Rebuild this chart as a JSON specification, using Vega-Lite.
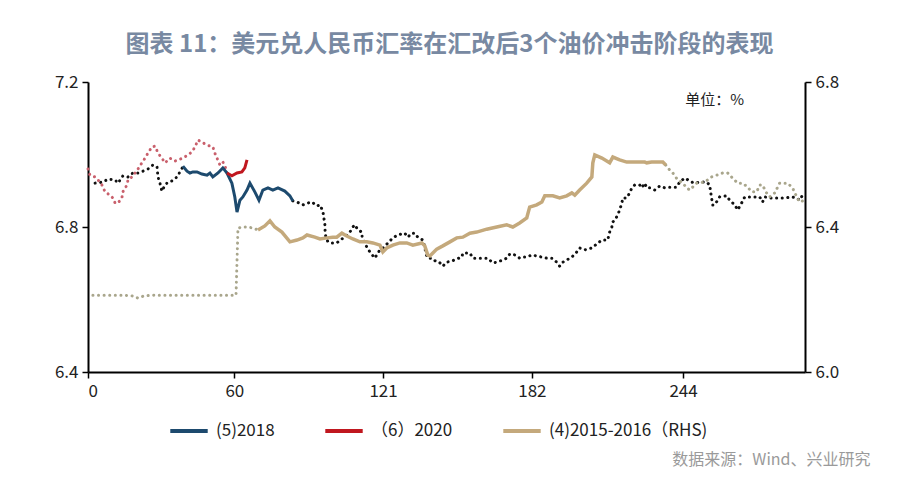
{
  "$schema": "https://vega.github.io/schema/vega-lite/v6.json",
  "width": 717,
  "height": 290,
  "autosize": {"type": "none"},
  "padding": {"left": 88, "top": 82, "right": 95, "bottom": 110},
  "background": "white",
  "title": {
    "text": "图表 11：美元兑人民币汇率在汇改后3个油价冲击阶段的表现",
    "font": "Noto Sans CJK SC",
    "fontSize": 24,
    "fontWeight": "bold",
    "color": "#7889a2",
    "anchor": "middle",
    "offset": 16,
    "dx": 3
  },
  "datasets": {
    "d2018": [
      {"day": 2.9, "rate": 6.921, "part": "pre"},
      {"day": 6.1, "rate": 6.924, "part": "pre"},
      {"day": 8.2, "rate": 6.932, "part": "pre"},
      {"day": 11.1, "rate": 6.930, "part": "pre"},
      {"day": 12.3, "rate": 6.921, "part": "pre"},
      {"day": 14.3, "rate": 6.941, "part": "pre"},
      {"day": 16.4, "rate": 6.938, "part": "pre"},
      {"day": 18.4, "rate": 6.949, "part": "pre"},
      {"day": 20.5, "rate": 6.949, "part": "pre"},
      {"day": 22.5, "rate": 6.954, "part": "pre"},
      {"day": 24.6, "rate": 6.960, "part": "pre"},
      {"day": 26.6, "rate": 6.971, "part": "pre"},
      {"day": 28.3, "rate": 6.966, "part": "pre"},
      {"day": 28.7, "rate": 6.938, "part": "pre"},
      {"day": 29.5, "rate": 6.921, "part": "pre"},
      {"day": 30.3, "rate": 6.899, "part": "pre"},
      {"day": 31.6, "rate": 6.916, "part": "pre"},
      {"day": 32.8, "rate": 6.924, "part": "pre"},
      {"day": 34.4, "rate": 6.927, "part": "pre"},
      {"day": 36.5, "rate": 6.938, "part": "pre"},
      {"day": 37.7, "rate": 6.952, "part": "pre"},
      {"day": 38.9, "rate": 6.966, "part": "pre"},
      {"day": 38.9, "rate": 6.968, "part": "win"},
      {"day": 40.6, "rate": 6.954, "part": "win"},
      {"day": 41.8, "rate": 6.949, "part": "win"},
      {"day": 43.0, "rate": 6.952, "part": "win"},
      {"day": 44.7, "rate": 6.952, "part": "win"},
      {"day": 46.7, "rate": 6.946, "part": "win"},
      {"day": 48.8, "rate": 6.943, "part": "win"},
      {"day": 50.0, "rate": 6.949, "part": "win"},
      {"day": 51.2, "rate": 6.938, "part": "win"},
      {"day": 53.3, "rate": 6.949, "part": "win"},
      {"day": 55.3, "rate": 6.963, "part": "win"},
      {"day": 57.0, "rate": 6.949, "part": "win"},
      {"day": 59.0, "rate": 6.921, "part": "win"},
      {"day": 60.2, "rate": 6.883, "part": "win"},
      {"day": 61.1, "rate": 6.841, "part": "win"},
      {"day": 62.3, "rate": 6.874, "part": "win"},
      {"day": 63.5, "rate": 6.883, "part": "win"},
      {"day": 65.2, "rate": 6.902, "part": "win"},
      {"day": 66.4, "rate": 6.921, "part": "win"},
      {"day": 68.4, "rate": 6.897, "part": "win"},
      {"day": 70.1, "rate": 6.874, "part": "win"},
      {"day": 71.7, "rate": 6.902, "part": "win"},
      {"day": 73.8, "rate": 6.908, "part": "win"},
      {"day": 75.8, "rate": 6.902, "part": "win"},
      {"day": 77.9, "rate": 6.908, "part": "win"},
      {"day": 80.7, "rate": 6.899, "part": "win"},
      {"day": 82.8, "rate": 6.886, "part": "win"},
      {"day": 84.0, "rate": 6.872, "part": "win"},
      {"day": 84.0, "rate": 6.872, "part": "post"},
      {"day": 85.7, "rate": 6.869, "part": "post"},
      {"day": 88.1, "rate": 6.861, "part": "post"},
      {"day": 90.2, "rate": 6.866, "part": "post"},
      {"day": 91.8, "rate": 6.869, "part": "post"},
      {"day": 93.9, "rate": 6.858, "part": "post"},
      {"day": 95.1, "rate": 6.861, "part": "post"},
      {"day": 96.3, "rate": 6.844, "part": "post"},
      {"day": 96.7, "rate": 6.825, "part": "post"},
      {"day": 97.1, "rate": 6.811, "part": "post"},
      {"day": 97.2, "rate": 6.792, "part": "post"},
      {"day": 97.5, "rate": 6.772, "part": "post"},
      {"day": 98.4, "rate": 6.759, "part": "post"},
      {"day": 100.0, "rate": 6.756, "part": "post"},
      {"day": 102.0, "rate": 6.756, "part": "post"},
      {"day": 104.1, "rate": 6.767, "part": "post"},
      {"day": 105.3, "rate": 6.772, "part": "post"},
      {"day": 107.4, "rate": 6.786, "part": "post"},
      {"day": 108.6, "rate": 6.800, "part": "post"},
      {"day": 109.4, "rate": 6.806, "part": "post"},
      {"day": 110.7, "rate": 6.792, "part": "post"},
      {"day": 112.3, "rate": 6.786, "part": "post"},
      {"day": 112.4, "rate": 6.772, "part": "post"},
      {"day": 114.3, "rate": 6.745, "part": "post"},
      {"day": 115.6, "rate": 6.731, "part": "post"},
      {"day": 117.6, "rate": 6.714, "part": "post"},
      {"day": 118.4, "rate": 6.723, "part": "post"},
      {"day": 119.7, "rate": 6.737, "part": "post"},
      {"day": 120.9, "rate": 6.742, "part": "post"},
      {"day": 123.0, "rate": 6.756, "part": "post"},
      {"day": 125.0, "rate": 6.770, "part": "post"},
      {"day": 127.0, "rate": 6.778, "part": "post"},
      {"day": 129.9, "rate": 6.783, "part": "post"},
      {"day": 131.1, "rate": 6.772, "part": "post"},
      {"day": 132.8, "rate": 6.783, "part": "post"},
      {"day": 134.0, "rate": 6.783, "part": "post"},
      {"day": 135.2, "rate": 6.772, "part": "post"},
      {"day": 137.3, "rate": 6.764, "part": "post"},
      {"day": 138.1, "rate": 6.745, "part": "post"},
      {"day": 138.5, "rate": 6.728, "part": "post"},
      {"day": 139.3, "rate": 6.714, "part": "post"},
      {"day": 141.0, "rate": 6.714, "part": "post"},
      {"day": 143.0, "rate": 6.703, "part": "post"},
      {"day": 144.3, "rate": 6.701, "part": "post"},
      {"day": 145.5, "rate": 6.692, "part": "post"},
      {"day": 147.1, "rate": 6.703, "part": "post"},
      {"day": 149.2, "rate": 6.706, "part": "post"},
      {"day": 151.2, "rate": 6.712, "part": "post"},
      {"day": 153.3, "rate": 6.717, "part": "post"},
      {"day": 153.7, "rate": 6.728, "part": "post"},
      {"day": 156.6, "rate": 6.728, "part": "post"},
      {"day": 157.8, "rate": 6.714, "part": "post"},
      {"day": 159.8, "rate": 6.714, "part": "post"},
      {"day": 161.9, "rate": 6.714, "part": "post"},
      {"day": 163.9, "rate": 6.714, "part": "post"},
      {"day": 166.0, "rate": 6.701, "part": "post"},
      {"day": 167.6, "rate": 6.703, "part": "post"},
      {"day": 168.9, "rate": 6.706, "part": "post"},
      {"day": 171.7, "rate": 6.714, "part": "post"},
      {"day": 173.0, "rate": 6.726, "part": "post"},
      {"day": 175.0, "rate": 6.723, "part": "post"},
      {"day": 177.0, "rate": 6.714, "part": "post"},
      {"day": 178.3, "rate": 6.717, "part": "post"},
      {"day": 179.9, "rate": 6.717, "part": "post"},
      {"day": 182.0, "rate": 6.723, "part": "post"},
      {"day": 184.0, "rate": 6.720, "part": "post"},
      {"day": 186.1, "rate": 6.717, "part": "post"},
      {"day": 188.1, "rate": 6.714, "part": "post"},
      {"day": 190.2, "rate": 6.714, "part": "post"},
      {"day": 192.2, "rate": 6.703, "part": "post"},
      {"day": 193.4, "rate": 6.692, "part": "post"},
      {"day": 194.7, "rate": 6.703, "part": "post"},
      {"day": 196.3, "rate": 6.709, "part": "post"},
      {"day": 198.4, "rate": 6.717, "part": "post"},
      {"day": 200.4, "rate": 6.731, "part": "post"},
      {"day": 201.6, "rate": 6.742, "part": "post"},
      {"day": 203.7, "rate": 6.737, "part": "post"},
      {"day": 206.6, "rate": 6.742, "part": "post"},
      {"day": 208.6, "rate": 6.753, "part": "post"},
      {"day": 210.7, "rate": 6.764, "part": "post"},
      {"day": 213.1, "rate": 6.764, "part": "post"},
      {"day": 213.9, "rate": 6.786, "part": "post"},
      {"day": 214.8, "rate": 6.800, "part": "post"},
      {"day": 215.2, "rate": 6.814, "part": "post"},
      {"day": 216.0, "rate": 6.819, "part": "post"},
      {"day": 217.2, "rate": 6.833, "part": "post"},
      {"day": 218.0, "rate": 6.847, "part": "post"},
      {"day": 218.9, "rate": 6.866, "part": "post"},
      {"day": 219.3, "rate": 6.880, "part": "post"},
      {"day": 220.9, "rate": 6.880, "part": "post"},
      {"day": 222.1, "rate": 6.894, "part": "post"},
      {"day": 223.0, "rate": 6.908, "part": "post"},
      {"day": 224.2, "rate": 6.916, "part": "post"},
      {"day": 226.2, "rate": 6.916, "part": "post"},
      {"day": 227.0, "rate": 6.908, "part": "post"},
      {"day": 228.3, "rate": 6.921, "part": "post"},
      {"day": 229.1, "rate": 6.908, "part": "post"},
      {"day": 230.3, "rate": 6.908, "part": "post"},
      {"day": 232.4, "rate": 6.902, "part": "post"},
      {"day": 234.4, "rate": 6.913, "part": "post"},
      {"day": 236.5, "rate": 6.908, "part": "post"},
      {"day": 238.5, "rate": 6.910, "part": "post"},
      {"day": 241.4, "rate": 6.910, "part": "post"},
      {"day": 242.6, "rate": 6.924, "part": "post"},
      {"day": 244.7, "rate": 6.935, "part": "post"},
      {"day": 245.5, "rate": 6.932, "part": "post"},
      {"day": 247.5, "rate": 6.924, "part": "post"},
      {"day": 248.8, "rate": 6.921, "part": "post"},
      {"day": 250.8, "rate": 6.924, "part": "post"},
      {"day": 253.7, "rate": 6.924, "part": "post"},
      {"day": 254.9, "rate": 6.916, "part": "post"},
      {"day": 255.3, "rate": 6.897, "part": "post"},
      {"day": 255.7, "rate": 6.880, "part": "post"},
      {"day": 256.1, "rate": 6.861, "part": "post"},
      {"day": 257.0, "rate": 6.861, "part": "post"},
      {"day": 259.0, "rate": 6.883, "part": "post"},
      {"day": 261.9, "rate": 6.886, "part": "post"},
      {"day": 263.1, "rate": 6.874, "part": "post"},
      {"day": 265.2, "rate": 6.861, "part": "post"},
      {"day": 266.4, "rate": 6.847, "part": "post"},
      {"day": 268.0, "rate": 6.866, "part": "post"},
      {"day": 269.3, "rate": 6.883, "part": "post"},
      {"day": 271.3, "rate": 6.883, "part": "post"},
      {"day": 273.4, "rate": 6.883, "part": "post"},
      {"day": 275.4, "rate": 6.883, "part": "post"},
      {"day": 276.6, "rate": 6.869, "part": "post"},
      {"day": 277.5, "rate": 6.883, "part": "post"},
      {"day": 279.5, "rate": 6.880, "part": "post"},
      {"day": 281.6, "rate": 6.880, "part": "post"},
      {"day": 283.6, "rate": 6.880, "part": "post"},
      {"day": 285.7, "rate": 6.880, "part": "post"},
      {"day": 288.5, "rate": 6.883, "part": "post"},
      {"day": 290.6, "rate": 6.880, "part": "post"},
      {"day": 291.8, "rate": 6.874, "part": "post"},
      {"day": 293.0, "rate": 6.888, "part": "post"},
      {"day": 294.0, "rate": 6.894, "part": "post"}
    ],
    "d2020": [
      {"day": 0.0, "rate": 6.960, "part": "pre"},
      {"day": 0.8, "rate": 6.943, "part": "pre"},
      {"day": 2.9, "rate": 6.938, "part": "pre"},
      {"day": 4.1, "rate": 6.930, "part": "pre"},
      {"day": 5.7, "rate": 6.916, "part": "pre"},
      {"day": 7.0, "rate": 6.897, "part": "pre"},
      {"day": 9.0, "rate": 6.888, "part": "pre"},
      {"day": 10.2, "rate": 6.880, "part": "pre"},
      {"day": 11.1, "rate": 6.866, "part": "pre"},
      {"day": 12.3, "rate": 6.866, "part": "pre"},
      {"day": 13.9, "rate": 6.880, "part": "pre"},
      {"day": 14.3, "rate": 6.897, "part": "pre"},
      {"day": 16.0, "rate": 6.916, "part": "pre"},
      {"day": 16.4, "rate": 6.930, "part": "pre"},
      {"day": 18.0, "rate": 6.938, "part": "pre"},
      {"day": 19.3, "rate": 6.949, "part": "pre"},
      {"day": 20.5, "rate": 6.960, "part": "pre"},
      {"day": 22.1, "rate": 6.977, "part": "pre"},
      {"day": 23.4, "rate": 6.990, "part": "pre"},
      {"day": 24.6, "rate": 7.004, "part": "pre"},
      {"day": 26.2, "rate": 7.021, "part": "pre"},
      {"day": 27.5, "rate": 7.023, "part": "pre"},
      {"day": 28.7, "rate": 7.004, "part": "pre"},
      {"day": 30.3, "rate": 6.990, "part": "pre"},
      {"day": 31.6, "rate": 6.977, "part": "pre"},
      {"day": 33.6, "rate": 6.990, "part": "pre"},
      {"day": 35.7, "rate": 6.982, "part": "pre"},
      {"day": 36.9, "rate": 6.985, "part": "pre"},
      {"day": 38.9, "rate": 6.990, "part": "pre"},
      {"day": 41.0, "rate": 6.999, "part": "pre"},
      {"day": 42.6, "rate": 7.007, "part": "pre"},
      {"day": 43.9, "rate": 7.021, "part": "pre"},
      {"day": 45.1, "rate": 7.040, "part": "pre"},
      {"day": 46.7, "rate": 7.034, "part": "pre"},
      {"day": 48.8, "rate": 7.026, "part": "pre"},
      {"day": 51.2, "rate": 7.021, "part": "pre"},
      {"day": 52.0, "rate": 7.004, "part": "pre"},
      {"day": 52.9, "rate": 6.990, "part": "pre"},
      {"day": 54.1, "rate": 6.971, "part": "pre"},
      {"day": 55.3, "rate": 6.979, "part": "pre"},
      {"day": 56.1, "rate": 6.971, "part": "pre"},
      {"day": 57.0, "rate": 6.949, "part": "pre"},
      {"day": 57.0, "rate": 6.949, "part": "win"},
      {"day": 59.0, "rate": 6.941, "part": "win"},
      {"day": 61.1, "rate": 6.949, "part": "win"},
      {"day": 63.1, "rate": 6.952, "part": "win"},
      {"day": 64.3, "rate": 6.963, "part": "win"},
      {"day": 65.2, "rate": 6.985, "part": "win"}
    ],
    "d2015": [
      {"day": 2.0, "rate": 6.212, "part": "pre"},
      {"day": 6.0, "rate": 6.212, "part": "pre"},
      {"day": 10.0, "rate": 6.212, "part": "pre"},
      {"day": 14.0, "rate": 6.212, "part": "pre"},
      {"day": 18.0, "rate": 6.210, "part": "pre"},
      {"day": 20.5, "rate": 6.204, "part": "pre"},
      {"day": 23.0, "rate": 6.210, "part": "pre"},
      {"day": 27.0, "rate": 6.212, "part": "pre"},
      {"day": 32.0, "rate": 6.212, "part": "pre"},
      {"day": 37.0, "rate": 6.212, "part": "pre"},
      {"day": 42.0, "rate": 6.212, "part": "pre"},
      {"day": 47.0, "rate": 6.212, "part": "pre"},
      {"day": 52.0, "rate": 6.212, "part": "pre"},
      {"day": 57.0, "rate": 6.212, "part": "pre"},
      {"day": 60.7, "rate": 6.212, "part": "pre"},
      {"day": 61.5, "rate": 6.397, "part": "pre"},
      {"day": 63.5, "rate": 6.400, "part": "pre"},
      {"day": 65.6, "rate": 6.400, "part": "pre"},
      {"day": 67.6, "rate": 6.397, "part": "pre"},
      {"day": 69.7, "rate": 6.392, "part": "pre"},
      {"day": 69.7, "rate": 6.392, "part": "win"},
      {"day": 72.5, "rate": 6.403, "part": "win"},
      {"day": 74.6, "rate": 6.417, "part": "win"},
      {"day": 76.6, "rate": 6.400, "part": "win"},
      {"day": 79.5, "rate": 6.386, "part": "win"},
      {"day": 82.8, "rate": 6.359, "part": "win"},
      {"day": 85.7, "rate": 6.364, "part": "win"},
      {"day": 88.1, "rate": 6.370, "part": "win"},
      {"day": 89.8, "rate": 6.378, "part": "win"},
      {"day": 93.0, "rate": 6.372, "part": "win"},
      {"day": 95.1, "rate": 6.367, "part": "win"},
      {"day": 98.0, "rate": 6.370, "part": "win"},
      {"day": 100.4, "rate": 6.372, "part": "win"},
      {"day": 102.0, "rate": 6.372, "part": "win"},
      {"day": 104.1, "rate": 6.383, "part": "win"},
      {"day": 106.1, "rate": 6.375, "part": "win"},
      {"day": 108.6, "rate": 6.367, "part": "win"},
      {"day": 111.5, "rate": 6.359, "part": "win"},
      {"day": 114.3, "rate": 6.359, "part": "win"},
      {"day": 116.8, "rate": 6.356, "part": "win"},
      {"day": 119.7, "rate": 6.350, "part": "win"},
      {"day": 120.9, "rate": 6.331, "part": "win"},
      {"day": 122.5, "rate": 6.342, "part": "win"},
      {"day": 125.0, "rate": 6.350, "part": "win"},
      {"day": 127.9, "rate": 6.356, "part": "win"},
      {"day": 130.7, "rate": 6.356, "part": "win"},
      {"day": 133.2, "rate": 6.350, "part": "win"},
      {"day": 136.9, "rate": 6.356, "part": "win"},
      {"day": 138.1, "rate": 6.348, "part": "win"},
      {"day": 139.3, "rate": 6.323, "part": "win"},
      {"day": 140.2, "rate": 6.320, "part": "win"},
      {"day": 141.4, "rate": 6.328, "part": "win"},
      {"day": 143.0, "rate": 6.339, "part": "win"},
      {"day": 145.5, "rate": 6.348, "part": "win"},
      {"day": 148.4, "rate": 6.359, "part": "win"},
      {"day": 151.2, "rate": 6.370, "part": "win"},
      {"day": 153.7, "rate": 6.372, "part": "win"},
      {"day": 156.6, "rate": 6.383, "part": "win"},
      {"day": 159.4, "rate": 6.386, "part": "win"},
      {"day": 163.5, "rate": 6.394, "part": "win"},
      {"day": 167.6, "rate": 6.400, "part": "win"},
      {"day": 171.7, "rate": 6.406, "part": "win"},
      {"day": 174.2, "rate": 6.400, "part": "win"},
      {"day": 177.0, "rate": 6.411, "part": "win"},
      {"day": 179.9, "rate": 6.425, "part": "win"},
      {"day": 181.1, "rate": 6.455, "part": "win"},
      {"day": 184.0, "rate": 6.461, "part": "win"},
      {"day": 186.1, "rate": 6.469, "part": "win"},
      {"day": 187.3, "rate": 6.486, "part": "win"},
      {"day": 190.6, "rate": 6.486, "part": "win"},
      {"day": 193.4, "rate": 6.480, "part": "win"},
      {"day": 196.3, "rate": 6.486, "part": "win"},
      {"day": 198.4, "rate": 6.494, "part": "win"},
      {"day": 199.6, "rate": 6.488, "part": "win"},
      {"day": 201.6, "rate": 6.502, "part": "win"},
      {"day": 204.5, "rate": 6.521, "part": "win"},
      {"day": 206.6, "rate": 6.538, "part": "win"},
      {"day": 207.0, "rate": 6.577, "part": "win"},
      {"day": 207.8, "rate": 6.599, "part": "win"},
      {"day": 210.7, "rate": 6.590, "part": "win"},
      {"day": 213.9, "rate": 6.577, "part": "win"},
      {"day": 215.2, "rate": 6.593, "part": "win"},
      {"day": 218.0, "rate": 6.585, "part": "win"},
      {"day": 220.9, "rate": 6.579, "part": "win"},
      {"day": 224.2, "rate": 6.579, "part": "win"},
      {"day": 228.3, "rate": 6.579, "part": "win"},
      {"day": 229.1, "rate": 6.577, "part": "win"},
      {"day": 231.1, "rate": 6.579, "part": "win"},
      {"day": 235.7, "rate": 6.579, "part": "win"},
      {"day": 236.9, "rate": 6.571, "part": "win"},
      {"day": 236.9, "rate": 6.571, "part": "post"},
      {"day": 237.7, "rate": 6.563, "part": "post"},
      {"day": 239.8, "rate": 6.549, "part": "post"},
      {"day": 241.8, "rate": 6.530, "part": "post"},
      {"day": 243.9, "rate": 6.521, "part": "post"},
      {"day": 245.5, "rate": 6.508, "part": "post"},
      {"day": 246.7, "rate": 6.502, "part": "post"},
      {"day": 249.6, "rate": 6.521, "part": "post"},
      {"day": 252.9, "rate": 6.524, "part": "post"},
      {"day": 255.7, "rate": 6.538, "part": "post"},
      {"day": 257.8, "rate": 6.543, "part": "post"},
      {"day": 260.2, "rate": 6.549, "part": "post"},
      {"day": 262.3, "rate": 6.549, "part": "post"},
      {"day": 264.3, "rate": 6.535, "part": "post"},
      {"day": 266.4, "rate": 6.521, "part": "post"},
      {"day": 268.4, "rate": 6.521, "part": "post"},
      {"day": 270.5, "rate": 6.510, "part": "post"},
      {"day": 272.1, "rate": 6.497, "part": "post"},
      {"day": 274.2, "rate": 6.497, "part": "post"},
      {"day": 275.4, "rate": 6.516, "part": "post"},
      {"day": 276.6, "rate": 6.516, "part": "post"},
      {"day": 277.9, "rate": 6.497, "part": "post"},
      {"day": 279.5, "rate": 6.483, "part": "post"},
      {"day": 281.6, "rate": 6.494, "part": "post"},
      {"day": 283.6, "rate": 6.521, "part": "post"},
      {"day": 285.7, "rate": 6.521, "part": "post"},
      {"day": 286.9, "rate": 6.521, "part": "post"},
      {"day": 288.9, "rate": 6.508, "part": "post"},
      {"day": 290.6, "rate": 6.483, "part": "post"},
      {"day": 291.8, "rate": 6.469, "part": "post"},
      {"day": 293.9, "rate": 6.474, "part": "post"}
    ]
  },
  "layer": [
    {
      "layer": [
        {
          "data": {"name": "d2018"},
          "transform": [{"filter": "datum.part != 'win'"}],
          "mark": {"type": "line", "color": "#111111", "strokeWidth": 3, "strokeDash": [0.1, 5.5], "strokeCap": "round"},
          "encoding": {
            "x": {
              "field": "day",
              "type": "quantitative",
              "scale": {"domain": [0, 294], "nice": false, "zero": false},
              "axis": {
                "values": [0, 60, 121, 182, 244],
                "title": "数据来源：Wind、兴业研究",
                "titleFont": "Noto Sans CJK SC",
                "titleFontSize": 16,
                "titleFontWeight": "normal",
                "titleColor": "#9a9a9a",
                "titleAnchor": "end",
                "titleAlign": "right",
                "titleBaseline": "middle",
                "titleX": 782,
                "titleY": 87,
                "labelPadding": 5
              }
            },
            "y": {
              "field": "rate",
              "type": "quantitative",
              "scale": {"domain": [6.4, 7.2], "nice": false, "zero": false},
              "axis": {"orient": "left", "values": [6.4, 6.8, 7.2], "format": ".1f", "title": null}
            },
            "detail": {"field": "part"}
          }
        },
        {
          "data": {"name": "d2020"},
          "transform": [{"filter": "datum.part == 'pre'"}],
          "mark": {"type": "line", "color": "#c9606c", "strokeWidth": 3, "strokeDash": [0.1, 5.5], "strokeCap": "round"},
          "encoding": {
            "x": {"field": "day", "type": "quantitative"},
            "y": {"field": "rate", "type": "quantitative"}
          }
        },
        {
          "data": {"name": "d2018"},
          "transform": [{"filter": "datum.part == 'win'"}, {"calculate": "'(5)2018'", "as": "series"}],
          "mark": {"type": "line", "strokeWidth": 3},
          "encoding": {
            "x": {"field": "day", "type": "quantitative"},
            "y": {"field": "rate", "type": "quantitative"},
            "color": {
              "field": "series",
              "type": "nominal",
              "scale": {
                "domain": ["(5)2018", "（6）2020", "(4)2015-2016（RHS)"],
                "range": ["#1d4a6e", "#c0171f", "#c4a97c"]
              },
              "legend": {
                "orient": "none",
                "legendX": 80,
                "legendY": 328,
                "direction": "horizontal",
                "title": null,
                "symbolType": "stroke",
                "symbolStrokeWidth": 4,
                "symbolSize": 1400,
                "labelFont": "Noto Sans CJK SC",
                "labelFontSize": 17,
                "labelColor": "#222222",
                "labelOffset": 6,
                "columnPadding": 42
              }
            }
          }
        },
        {
          "data": {"name": "d2020"},
          "transform": [{"filter": "datum.part == 'win'"}, {"calculate": "'（6）2020'", "as": "series"}],
          "mark": {"type": "line", "strokeWidth": 3},
          "encoding": {
            "x": {"field": "day", "type": "quantitative"},
            "y": {"field": "rate", "type": "quantitative"},
            "color": {"field": "series", "type": "nominal"}
          }
        },
        {
          "data": {"values": [{"label": "单位：%"}]},
          "mark": {"type": "text", "font": "Noto Sans CJK SC", "fontSize": 15, "color": "#222222", "align": "center", "baseline": "middle"},
          "encoding": {
            "x": {"datum": 257, "type": "quantitative"},
            "y": {"datum": 7.15, "type": "quantitative"},
            "text": {"field": "label", "type": "nominal"}
          }
        }
      ]
    },
    {
      "data": {"name": "d2015"},
      "layer": [
        {
          "transform": [{"filter": "datum.part != 'win'"}],
          "mark": {"type": "line", "color": "#a9a68c", "strokeWidth": 3, "strokeDash": [0.1, 5.5], "strokeCap": "round"},
          "encoding": {
            "x": {"field": "day", "type": "quantitative"},
            "y": {
              "field": "rate",
              "type": "quantitative",
              "scale": {"domain": [6.0, 6.8], "nice": false, "zero": false},
              "axis": {"orient": "right", "values": [6.0, 6.4, 6.8], "format": ".1f", "title": null}
            },
            "detail": {"field": "part"}
          }
        },
        {
          "transform": [{"filter": "datum.part == 'win'"}, {"calculate": "'(4)2015-2016（RHS)'", "as": "series"}],
          "mark": {"type": "line", "strokeWidth": 3.5},
          "encoding": {
            "x": {"field": "day", "type": "quantitative"},
            "y": {"field": "rate", "type": "quantitative"},
            "color": {"field": "series", "type": "nominal"}
          }
        }
      ]
    }
  ],
  "resolve": {"scale": {"y": "independent"}},
  "config": {
    "view": {"stroke": null},
    "axis": {
      "grid": false,
      "domainColor": "#000000",
      "domainWidth": 2,
      "tickColor": "#000000",
      "tickWidth": 1.5,
      "tickSize": 6,
      "labelFont": "Noto Sans CJK SC",
      "labelFontSize": 17,
      "labelColor": "#222222",
      "labelPadding": 4
    }
  }
}
